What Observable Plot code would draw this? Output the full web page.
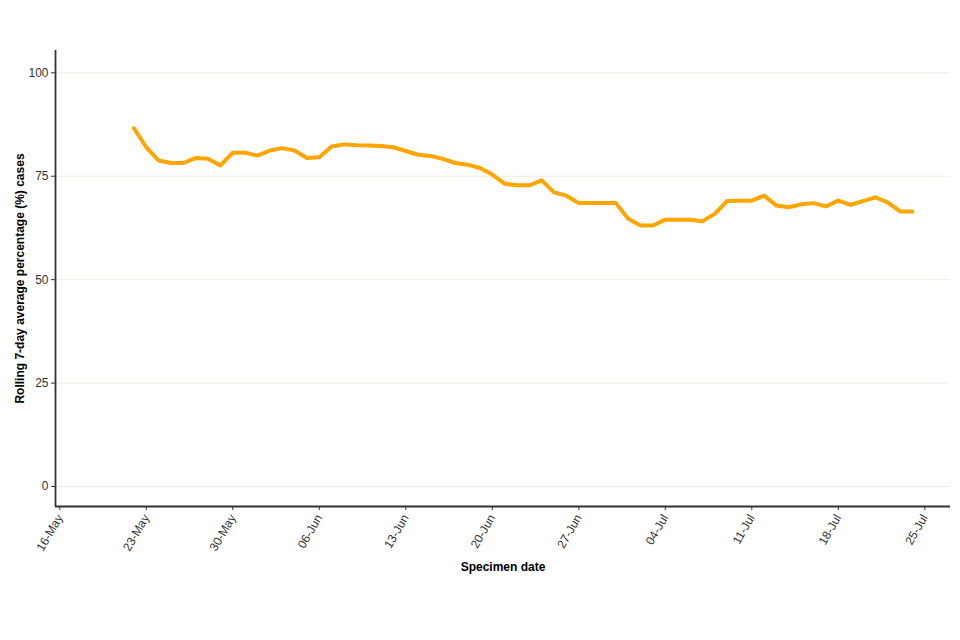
<!DOCTYPE html>
<html>
<head>
<meta charset="utf-8">
<script src="https://cdn.jsdelivr.net/npm/d3@7"></script>
<script src="https://cdn.jsdelivr.net/npm/@observablehq/plot@0.6"></script>
<style>
  html, body { margin: 0; padding: 0; background: #ffffff; }
  #chart { width: 960px; height: 640px; }
</style>
</head>
<body>
<div id="chart"></div>
<script>
// ---- Data ----
const firstDate = "2021-05-22";
const values = [
  86.6, 82.0, 78.8, 78.2, 78.2, 79.4, 79.2, 77.6, 80.7, 80.7,
  80.0, 81.2, 81.8, 81.2, 79.4, 79.6, 82.2, 82.7, 82.5, 82.4,
  82.3, 82.0, 81.1, 80.2, 79.9, 79.2, 78.2, 77.8, 77.0, 75.4,
  73.2, 72.8, 72.8, 74.0, 71.1, 70.3, 68.5, 68.5, 68.5, 68.5,
  64.7, 63.1, 63.1, 64.5, 64.5, 64.5, 64.1, 65.9, 69.0, 69.1,
  69.1, 70.3, 67.9, 67.5, 68.2, 68.5, 67.7, 69.1, 68.1, 69.0,
  69.9, 68.7, 66.5, 66.5
];
const xTickDates = ["2021-05-16","2021-05-23","2021-05-30","2021-06-06","2021-06-13",
  "2021-06-20","2021-06-27","2021-07-04","2021-07-11","2021-07-18","2021-07-25"];
const yTicks = [0, 25, 50, 75, 100];
const xTitle = "Specimen date";
const yTitle = "Rolling 7-day average percentage (%) cases";

// ---- Build table ----
const start = new Date(firstDate + "T00:00:00Z");
const data = values.map((v, i) => ({date: d3.utcDay.offset(start, i), value: v}));
const ticks = xTickDates.map(s => new Date(s + "T00:00:00Z"));
const t0 = ticks[0];
const xDomain = [new Date(+t0 - 0.348 * 864e5), new Date(+t0 + 72.08 * 864e5)];
const yDomain = [-4.83, 105.39];
const fmt = d3.utcFormat("%d-%b");

const chart = Plot.plot({
  width: 960,
  height: 640,
  marginLeft: 55,
  marginRight: 10,
  marginTop: 50,
  marginBottom: 134,
  style: {fontFamily: "'Liberation Sans', Arial, sans-serif", fontSize: "12px", color: "#333", background: "#ffffff"},
  x: {type: "utc", domain: xDomain, label: null},
  y: {domain: yDomain, label: null},
  marks: [
    Plot.gridY(yTicks, {stroke: "#eeeedd", strokeOpacity: 1, strokeWidth: 1}),
    Plot.axisY(yTicks, {tickSize: 4, tickPadding: 3, fontSize: 12, label: null, stroke: "#333", fill: "#333"}),
    Plot.axisX(ticks, {tickFormat: fmt, tickRotate: -60, tickSize: 4, tickPadding: 5, fontSize: 12, label: null, stroke: "#333", fill: "#333"}),
    Plot.ruleX([xDomain[0]], {stroke: "#333", strokeWidth: 1.8}),
    Plot.ruleY([yDomain[0]], {stroke: "#333", strokeWidth: 1.8}),
    Plot.line(data, {x: "date", y: "value", stroke: "#FFA500", strokeWidth: 4, strokeLinejoin: "round"}),
    Plot.text([xTitle], {frameAnchor: "bottom", dy: 64, fontWeight: "bold", fontSize: 12, fill: "#000"}),
    Plot.text([yTitle], {frameAnchor: "left", textAnchor: "middle", rotate: -90, dx: -35, fontWeight: "bold", fontSize: 12, fill: "#000"})
  ]
});
document.getElementById("chart").appendChild(chart);
</script>
</body>
</html>
